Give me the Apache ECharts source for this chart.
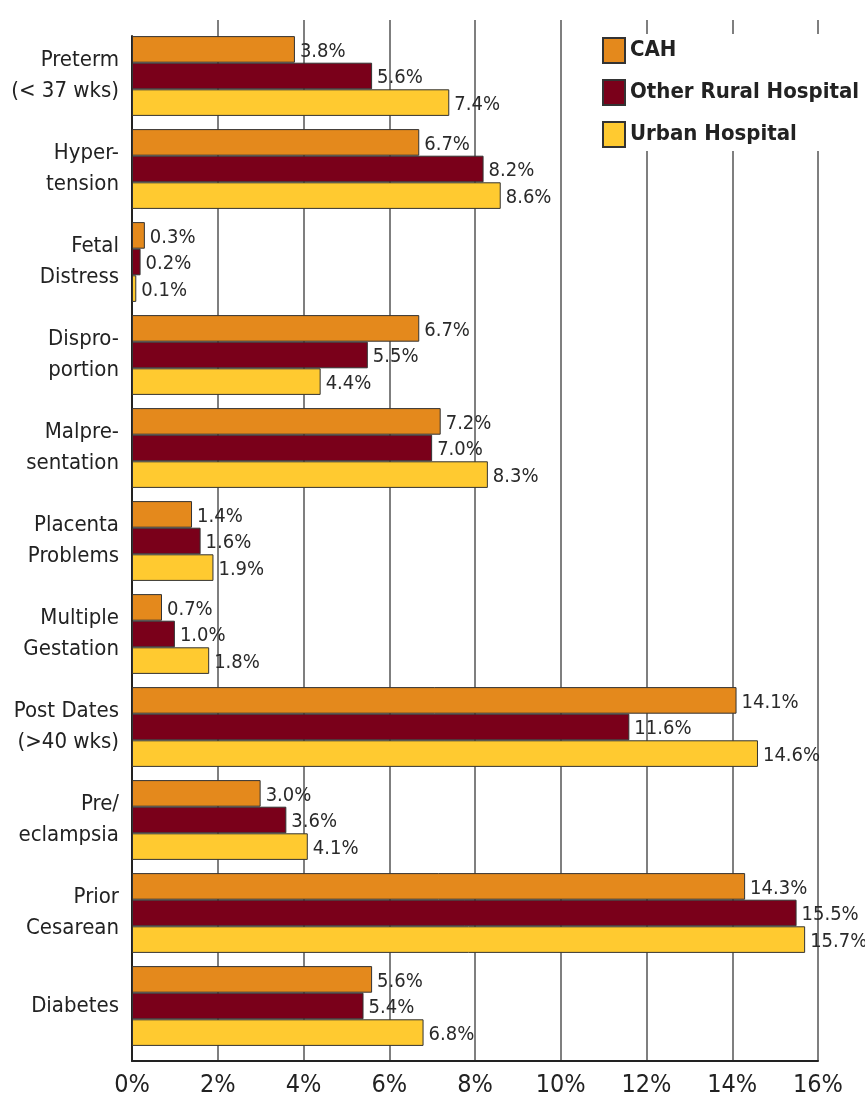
<!DOCTYPE html>
<html>
<head>
<meta charset="utf-8">
<script src="https://cdn.jsdelivr.net/npm/echarts@6/dist/echarts.min.js"></script>
<style>
  html, body { margin: 0; padding: 0; background: #fff; }
  #chart { width: 865px; height: 1101px; }
</style>
</head>
<body>
<div id="chart"></div>
<script>
// categories, top to bottom
const categories = [
  'Preterm\n(< 37 wks)', 'Hyper-\ntension', 'Fetal\nDistress', 'Dispro-\nportion',
  'Malpre-\nsentation', 'Placenta\nProblems', 'Multiple\nGestation', 'Post Dates\n(>40 wks)',
  'Pre/\neclampsia', 'Prior\nCesarean', 'Diabetes'
]
const seriesNames = ['CAH', 'Other Rural Hospital', 'Urban Hospital']
const cahValues = [3.8, 6.7, 0.3, 6.7, 7.2, 1.4, 0.7, 14.1, 3.0, 14.3, 5.6]
const ruralValues = [5.6, 8.2, 0.2, 5.5, 7.0, 1.6, 1.0, 11.6, 3.6, 15.5, 5.4]
const urbanValues = [7.4, 8.6, 0.1, 4.4, 8.3, 1.9, 1.8, 14.6, 4.1, 15.7, 6.8]
const xTicks = [0, 2, 4, 6, 8, 10, 12, 14, 16]

const colors = ['#e4891c', '#7a001a', '#ffca30']
const font = "'Liberation Sans Narrow', 'DejaVu Sans Condensed', sans-serif"

const chart = echarts.init(document.getElementById('chart'))

function barSeries(name, data, color) {
  return {
    name: name,
    type: 'bar',
    xAxisIndex: 0,
    yAxisIndex: 0,
    data: data,
    barWidth: 26.6,
    barGap: '0%',
    itemStyle: { color: color, borderColor: '#333', borderWidth: 1 },
    label: {
      show: true,
      position: 'right',
      distance: 5,
      offset: [0, 2],
      color: '#2a2a2a',
      fontFamily: font,
      fontSize: 20,
      formatter: p => p.value.toFixed(1) + '%'
    }
  }
}

chart.setOption({
  animation: false,
  color: colors,
  legend: {
    data: seriesNames,
    orient: 'vertical',
    left: 596,
    top: 34,
    padding: [3, 6, 3, 6],
    backgroundColor: '#fff',
    itemWidth: 22,
    itemHeight: 25,
    itemGap: 15,
    icon: 'rect',
    textStyle: { fontFamily: font, fontSize: 22, fontWeight: 'bold', color: '#222' }
  },
  grid: [
    // bars
    { left: 132, right: 47, top: 29.5, height: 1023, outerBoundsMode: 'none', containLabel: false },
    // gridlines and x axis
    { left: 132, right: 47, top: 20, height: 1041, outerBoundsMode: 'none', containLabel: false },
    // left axis line
    { left: 132, right: 47, top: 36, height: 1025, outerBoundsMode: 'none', containLabel: false }
  ],
  xAxis: [
    { gridIndex: 0, type: 'value', min: 0, max: 16, show: false },
    {
      gridIndex: 1,
      type: 'value',
      min: xTicks[0],
      max: xTicks[xTicks.length - 1],
      interval: 2,
      axisLine: { show: true, lineStyle: { color: '#222', width: 2 } },
      axisTick: { show: false },
      axisLabel: {
        margin: 12,
        color: '#222',
        fontFamily: font,
        fontSize: 25,
        formatter: '{value}%'
      },
      splitLine: {
        show: true,
        lineStyle: {
          color: xTicks.map((t, i) => i === 0 ? 'rgba(0,0,0,0)' : '#555'),
          width: 1.5
        }
      }
    },
    { gridIndex: 2, type: 'value', min: 0, max: 16, show: false }
  ],
  yAxis: [
    {
      gridIndex: 0,
      type: 'category',
      inverse: true,
      data: categories,
      axisLine: { show: false },
      axisTick: { show: false },
      axisLabel: {
        margin: 13,
        color: '#222',
        fontFamily: font,
        fontSize: 22,
        lineHeight: 31,
        align: 'right'
      }
    },
    { gridIndex: 1, type: 'value', show: false },
    {
      gridIndex: 2,
      type: 'value',
      axisLine: { show: true, lineStyle: { color: '#222', width: 2 } },
      axisTick: { show: false },
      axisLabel: { show: false },
      splitLine: { show: false }
    }
  ],
  series: [
    barSeries(seriesNames[0], cahValues, colors[0]),
    barSeries(seriesNames[1], ruralValues, colors[1]),
    barSeries(seriesNames[2], urbanValues, colors[2])
  ]
})
</script>
</body>
</html>
